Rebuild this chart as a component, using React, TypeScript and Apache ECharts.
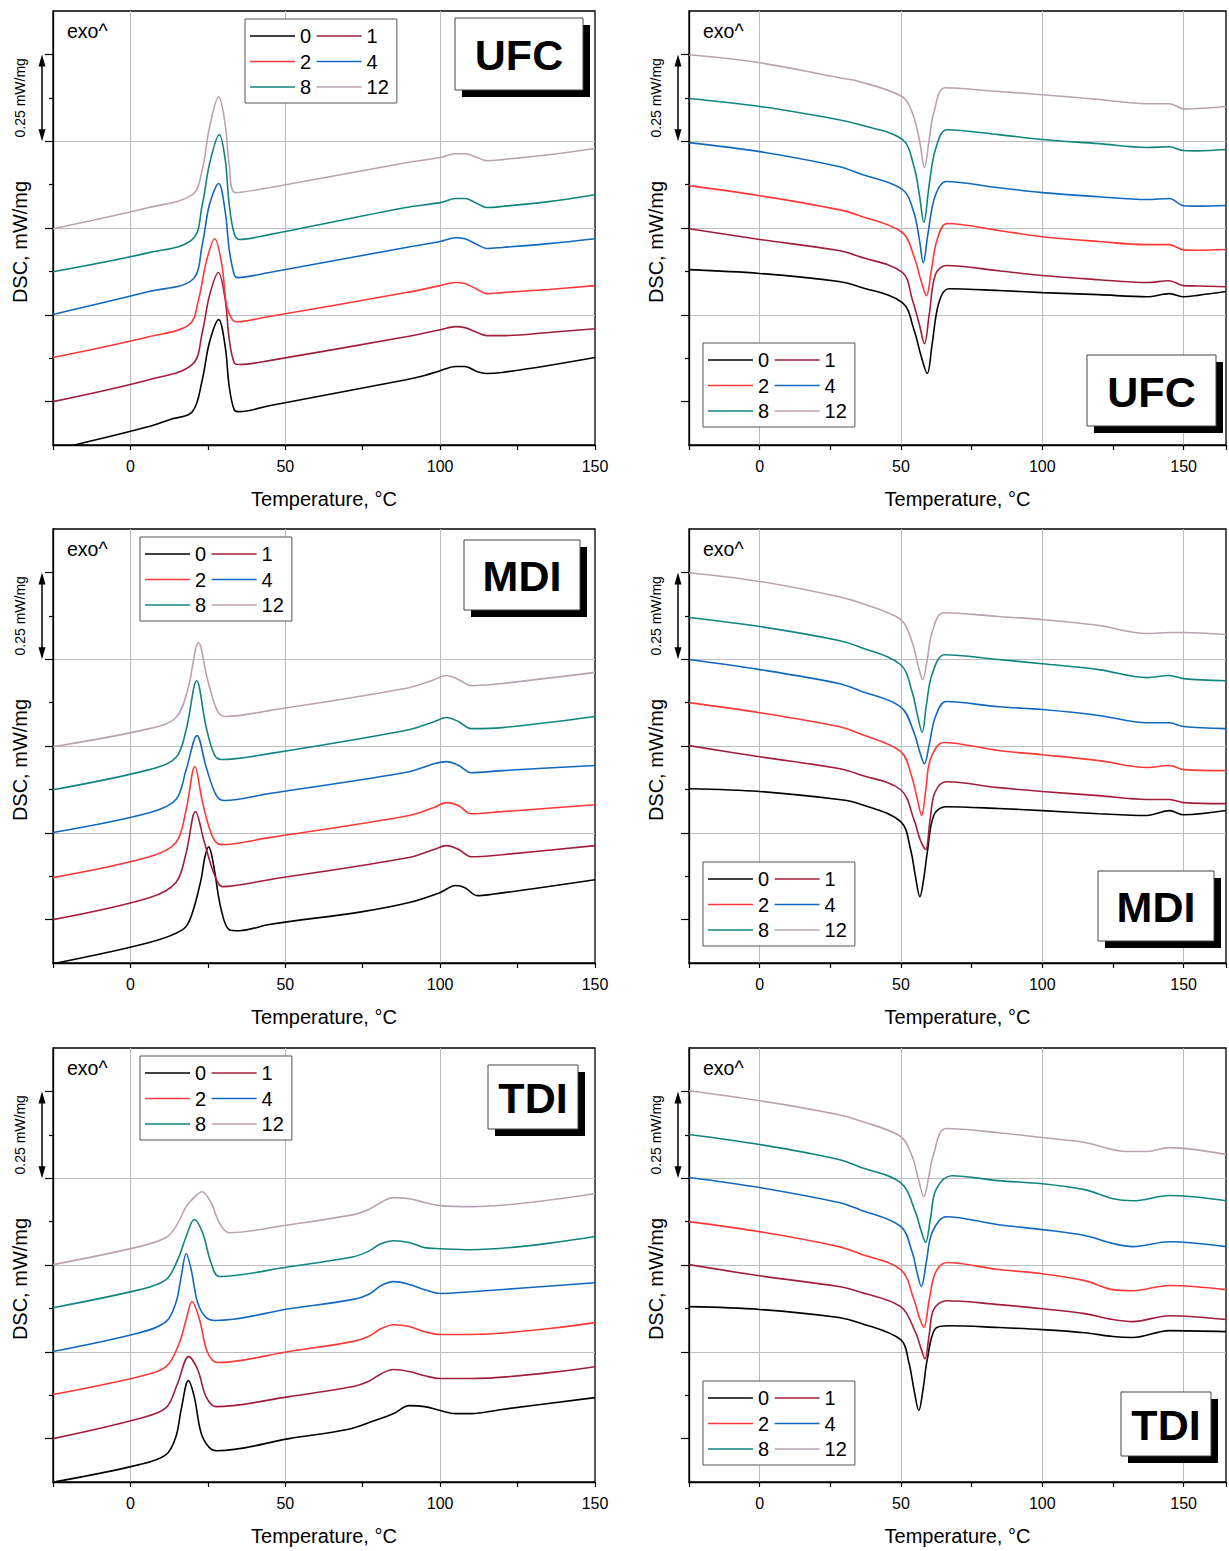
import React, { useEffect, useRef } from 'react';
import * as echarts from 'echarts';

const FONT = "'Liberation Sans', Arial, Helvetica, sans-serif";
const SAMPLES = ['0', '1', '2', '4', '8', '12'];
const COLORS = ['#000000', '#a01e3c', '#ff3838', '#1168bd', '#12847e', '#bba2b2'];
const X_LABELS_SHOWN = [0, 50, 100, 150];
const Y_MAJOR_TICKS = [0, 1, 2, 3, 4];

// [Temperature °C, DSC mW/mg (relative, shifted curves)]
const UFC_L_0 = [[-19,-0.127],[6,-0.072],[12.6,-0.052],[20,-0.029],[23.2,0.063],[25.5,0.170],[28.5,0.236],[30.6,0.158],[31.9,0.043],[33.5,-0.023],[35.2,-0.029],[44.8,-0.012],[89,0.063],[95,0.075],[100,0.089],[105,0.101],[108,0.101],[112,0.086],[115,0.081],[120,0.084],[135,0.104],[150,0.127]];
const UFC_L_1 = [[-25,0],[6,0.063],[20,0.107],[23.2,0.199],[25.5,0.305],[28.4,0.372],[30.6,0.294],[31.9,0.179],[33.5,0.112],[35.2,0.107],[44.8,0.118],[89,0.187],[100,0.207],[105,0.216],[108,0.213],[112,0.199],[115,0.190],[120,0.190],[135,0.199],[150,0.210]];
const UFC_L_2 = [[-25,0.127],[6,0.187],[19,0.222],[22,0.294],[24.5,0.403],[27.2,0.469],[29.5,0.395],[31,0.279],[32.5,0.242],[34.2,0.230],[44.8,0.245],[89,0.314],[100,0.334],[105,0.343],[108,0.340],[112,0.323],[115,0.311],[120,0.314],[135,0.323],[150,0.334]];
const UFC_L_4 = [[-25,0.251],[6,0.317],[20,0.351],[23.2,0.452],[25.5,0.567],[28.5,0.628],[30.6,0.547],[31.9,0.438],[33.5,0.366],[34.5,0.357],[44.8,0.372],[89,0.444],[100,0.461],[105,0.472],[108,0.469],[112,0.452],[115,0.441],[120,0.444],[135,0.455],[150,0.469]];
const UFC_L_8 = [[-25,0.374],[6,0.429],[20,0.467],[23.2,0.567],[25.5,0.683],[28.7,0.769],[30.6,0.697],[31.9,0.567],[33.5,0.484],[35.2,0.467],[44.8,0.481],[89,0.559],[100,0.573],[105,0.585],[108,0.585],[112,0.570],[115,0.559],[120,0.562],[135,0.576],[150,0.596]];
const UFC_L_12 = [[-25,0.498],[6,0.559],[20,0.596],[23.2,0.668],[25.5,0.789],[28.5,0.878],[30.6,0.798],[31.9,0.683],[33.9,0.602],[44.8,0.616],[89,0.688],[100,0.703],[105,0.714],[108,0.714],[112,0.703],[115,0.694],[120,0.697],[135,0.711],[150,0.729]];

const UFC_R_0 = [[-25,0.380],[0,0.369],[28,0.346],[35.2,0.331],[50.5,0.285],[54.6,0.207],[57,0.135],[59.3,0.081],[61,0.164],[63.4,0.285],[66.9,0.325],[84.5,0.320],[100,0.314],[120,0.308],[137,0.302],[145,0.311],[150,0.302],[155,0.306],[165,0.317]];
const UFC_R_1 = [[-25,0.498],[0,0.467],[28,0.435],[35.2,0.418],[50.5,0.372],[54,0.294],[56.5,0.222],[58.3,0.167],[60,0.251],[62.2,0.366],[66,0.392],[84.5,0.377],[100,0.363],[120,0.351],[137,0.343],[145,0.348],[150,0.334],[155,0.333],[165,0.331]];
const UFC_R_2 = [[-25,0.622],[0,0.593],[28,0.553],[35.2,0.536],[50.5,0.487],[54.6,0.418],[57,0.351],[59,0.305],[60.8,0.380],[62.8,0.467],[66.3,0.513],[84.5,0.493],[100,0.475],[120,0.461],[137,0.452],[145,0.452],[150,0.437],[155,0.436],[165,0.438]];
const UFC_R_4 = [[-25,0.746],[0,0.720],[28,0.677],[35.2,0.657],[50.5,0.611],[54.6,0.544],[56.5,0.467],[57.9,0.400],[59.5,0.481],[62,0.590],[66,0.634],[84.5,0.616],[100,0.602],[120,0.590],[137,0.582],[145,0.585],[150,0.564],[155,0.563],[165,0.565]];
const UFC_R_8 = [[-25,0.873],[0,0.850],[28,0.812],[35.2,0.798],[50.5,0.755],[54.6,0.677],[56.5,0.596],[58.1,0.516],[60,0.625],[62.2,0.726],[66.3,0.783],[84.5,0.769],[100,0.755],[120,0.743],[137,0.732],[145,0.734],[150,0.723],[155,0.722],[165,0.726]];
const UFC_R_12 = [[-25,0.999],[0,0.976],[28,0.933],[35.2,0.922],[50.5,0.878],[54,0.832],[56.5,0.755],[58.3,0.674],[60,0.755],[61.6,0.832],[65.7,0.904],[84.5,0.893],[100,0.884],[120,0.870],[137,0.858],[145,0.858],[150,0.843],[155,0.844],[165,0.850]];

const MDI_L_0 = [[-25,-0.127],[6.1,-0.066],[16.9,-0.029],[19.6,0.009],[22.8,0.115],[24,0.179],[25.3,0.210],[26.2,0.187],[27.1,0.144],[29.3,0.029],[31.9,-0.029],[35.2,-0.032],[44.8,-0.014],[75,0.023],[90,0.049],[100,0.078],[105,0.098],[108,0.092],[112,0.069],[116,0.072],[130,0.089],[150,0.115]];
const MDI_L_1 = [[-25,0],[6.1,0.063],[14.7,0.107],[18,0.193],[21,0.311],[23.9,0.222],[27.1,0.130],[29.8,0.095],[44.8,0.115],[90,0.179],[98,0.202],[102,0.213],[106,0.202],[110,0.181],[120,0.187],[150,0.213]];
const MDI_L_2 = [[-25,0.121],[6.1,0.181],[14.7,0.222],[18,0.317],[20.8,0.441],[23.3,0.337],[26.5,0.239],[29.3,0.216],[44.8,0.236],[90,0.300],[98,0.323],[102,0.337],[106,0.328],[110,0.305],[120,0.311],[150,0.331]];
const MDI_L_4 = [[-25,0.251],[6.1,0.308],[14.7,0.346],[18,0.432],[21.5,0.530],[24.4,0.441],[27.6,0.360],[30.3,0.343],[44.8,0.363],[90,0.426],[98,0.449],[102,0.455],[106,0.444],[110,0.423],[120,0.429],[150,0.444]];
const MDI_L_8 = [[-25,0.374],[6.1,0.432],[14.7,0.467],[18,0.547],[21.4,0.688],[24.4,0.556],[27.1,0.475],[29.3,0.461],[44.8,0.478],[90,0.547],[98,0.570],[102,0.582],[106,0.570],[110,0.550],[120,0.553],[150,0.585]];
const MDI_L_12 = [[-25,0.498],[6.1,0.550],[14.7,0.582],[18.5,0.662],[22,0.798],[24.9,0.691],[28.2,0.599],[30.9,0.585],[44.8,0.602],[90,0.668],[98,0.691],[102,0.703],[106,0.691],[110,0.674],[120,0.680],[150,0.712]];

const MDI_R_0 = [[-25,0.377],[0,0.369],[28,0.346],[35.2,0.334],[49.9,0.282],[53.4,0.202],[55,0.130],[56.7,0.066],[58,0.115],[59.3,0.193],[61.6,0.300],[65.7,0.325],[84.5,0.320],[100,0.314],[120,0.305],[137,0.300],[145,0.314],[150,0.302],[165,0.314]];
const MDI_R_1 = [[-25,0.501],[0,0.469],[28,0.435],[35.2,0.418],[49.9,0.374],[54.6,0.288],[56.8,0.230],[58.7,0.202],[60.3,0.288],[62,0.366],[66,0.397],[84.5,0.380],[100,0.369],[120,0.357],[137,0.346],[145,0.346],[150,0.337],[165,0.334]];
const MDI_R_2 = [[-25,0.625],[0,0.596],[28,0.556],[35.2,0.536],[49.9,0.484],[53.8,0.412],[55.8,0.346],[57.3,0.300],[58.8,0.374],[60.4,0.461],[65.1,0.510],[84.5,0.487],[100,0.475],[120,0.458],[137,0.438],[145,0.444],[150,0.432],[165,0.429]];
const MDI_R_4 = [[-25,0.749],[0,0.720],[28,0.680],[35.2,0.660],[49.9,0.613],[54.6,0.539],[56.6,0.484],[58.3,0.449],[60,0.504],[62.2,0.585],[66,0.628],[84.5,0.613],[100,0.605],[120,0.588],[137,0.567],[145,0.567],[150,0.556],[165,0.550]];
const MDI_R_8 = [[-25,0.870],[0,0.844],[28,0.804],[35.2,0.786],[49.9,0.734],[54,0.654],[55.8,0.590],[57.5,0.539],[59,0.619],[61,0.706],[65.5,0.763],[84.5,0.749],[100,0.737],[120,0.720],[137,0.697],[145,0.703],[150,0.694],[165,0.688]];
const MDI_R_12 = [[-25,0.999],[0,0.974],[28,0.930],[35.2,0.913],[49.9,0.864],[54,0.798],[56,0.734],[57.7,0.691],[59.3,0.749],[61,0.827],[65.1,0.884],[84.5,0.873],[100,0.864],[120,0.847],[137,0.824],[145,0.827],[150,0.827],[165,0.821]];

const TDI_L_0 = [[-24,-0.124],[2.9,-0.075],[11.5,-0.046],[14.7,0.006],[16.4,0.084],[18.7,0.167],[20.6,0.121],[22.8,0.017],[25.5,-0.026],[28.2,-0.035],[51.3,0],[70,0.026],[78,0.049],[85,0.072],[90,0.095],[95,0.092],[100,0.081],[105,0.072],[110,0.072],[120,0.084],[150,0.118]];
const TDI_L_1 = [[-25,0],[2.9,0.058],[11.5,0.089],[15.3,0.161],[18.8,0.236],[21.7,0.199],[24.4,0.121],[27.6,0.092],[51.3,0.121],[72,0.150],[77,0.165],[81,0.187],[85,0.199],[90,0.193],[95,0.181],[100,0.173],[110,0.173],[150,0.207]];
const TDI_L_2 = [[-25,0.127],[2.9,0.179],[11.5,0.207],[15.8,0.276],[18,0.343],[19.9,0.395],[22.3,0.343],[24.9,0.248],[28.2,0.219],[51.3,0.251],[72,0.280],[77,0.295],[81,0.317],[85,0.328],[90,0.323],[95,0.308],[100,0.300],[110,0.300],[150,0.334]];
const TDI_L_4 = [[-25,0.251],[2.9,0.305],[11.5,0.337],[14.7,0.392],[16.4,0.467],[18,0.533],[19.6,0.487],[21.7,0.392],[24.4,0.349],[27.6,0.340],[51.3,0.374],[72,0.401],[77,0.416],[81,0.441],[85,0.452],[90,0.444],[95,0.429],[100,0.418],[110,0.423],[150,0.449]];
const TDI_L_8 = [[-25,0.377],[2.9,0.429],[11.5,0.458],[15.3,0.516],[18,0.582],[20.6,0.631],[23.3,0.593],[26,0.507],[28.7,0.467],[51.3,0.495],[72,0.524],[77,0.540],[81,0.562],[85,0.570],[90,0.565],[95,0.550],[100,0.547],[110,0.544],[150,0.582]];
const TDI_L_12 = [[-25,0.501],[2.9,0.553],[11.5,0.579],[14.7,0.611],[18,0.668],[20.5,0.694],[23.1,0.711],[26,0.680],[28.7,0.622],[31.9,0.593],[51.3,0.616],[72,0.645],[77,0.660],[81,0.681],[85,0.694],[90,0.691],[95,0.680],[100,0.671],[110,0.668],[150,0.706]];

const TDI_R_0 = [[-25,0.380],[0,0.372],[28,0.349],[35.2,0.334],[49.9,0.285],[52.8,0.219],[54.6,0.141],[56.3,0.081],[57.8,0.141],[59.3,0.228],[62.2,0.317],[66.9,0.325],[84.5,0.320],[100,0.314],[115,0.305],[125,0.294],[132,0.291],[145,0.311],[165,0.308]];
const TDI_R_1 = [[-25,0.501],[0,0.469],[28,0.438],[35.2,0.423],[49.9,0.380],[55.2,0.305],[57,0.262],[58.5,0.230],[60,0.300],[61.6,0.372],[66,0.397],[84.5,0.386],[100,0.374],[115,0.360],[125,0.343],[132,0.337],[145,0.354],[165,0.343]];
const TDI_R_2 = [[-25,0.625],[0,0.596],[28,0.553],[35.2,0.533],[49.9,0.487],[54.6,0.400],[56.5,0.349],[58.1,0.320],[60,0.400],[62.2,0.478],[66.3,0.507],[84.5,0.487],[100,0.475],[115,0.455],[125,0.429],[132,0.426],[145,0.441],[165,0.429]];
const TDI_R_4 = [[-25,0.752],[0,0.723],[28,0.680],[35.2,0.660],[49.9,0.611],[54,0.536],[55.7,0.478],[57.2,0.438],[59,0.510],[61,0.593],[66,0.639],[84.5,0.616],[100,0.602],[115,0.585],[125,0.562],[132,0.553],[145,0.567],[165,0.553]];
const TDI_R_8 = [[-25,0.876],[0,0.847],[28,0.804],[35.2,0.783],[49.9,0.737],[55.2,0.651],[57,0.602],[58.7,0.565],[60.5,0.637],[62.4,0.717],[68,0.757],[84.5,0.743],[100,0.734],[115,0.717],[125,0.691],[132,0.685],[145,0.700],[165,0.685]];
const TDI_R_12 = [[-25,1.002],[0,0.973],[28,0.933],[35.2,0.916],[49.9,0.870],[54,0.812],[56.2,0.746],[58.1,0.697],[59.8,0.752],[61.3,0.812],[66,0.893],[84.5,0.881],[100,0.867],[115,0.853],[130,0.827],[137,0.827],[145,0.838],[165,0.818]];

// scale bar: one major y division = 0.25 mW/mg
const SCALE_BAR = 0.25;

const COL_LEFT = [53, 689];
const COL_WIDTH = [542, 539];
const COL_XMAX = [150, 165];
const ROW_TOP = [11, 529, 1048];
const GRID_H = 434;

const PANELS = [
  { label: 'UFC', row: 0, col: 0, curves: [UFC_L_0, UFC_L_1, UFC_L_2, UFC_L_4, UFC_L_8, UFC_L_12], leg: [245, 19], box: [455, 18, 128, 72] },
  { label: 'UFC', row: 0, col: 1, curves: [UFC_R_0, UFC_R_1, UFC_R_2, UFC_R_4, UFC_R_8, UFC_R_12], leg: [703, 343], box: [1087, 355, 129, 71] },
  { label: 'MDI', row: 1, col: 0, curves: [MDI_L_0, MDI_L_1, MDI_L_2, MDI_L_4, MDI_L_8, MDI_L_12], leg: [140, 537], box: [464, 540, 116, 70] },
  { label: 'MDI', row: 1, col: 1, curves: [MDI_R_0, MDI_R_1, MDI_R_2, MDI_R_4, MDI_R_8, MDI_R_12], leg: [703, 862], box: [1098, 871, 116, 70] },
  { label: 'TDI', row: 2, col: 0, curves: [TDI_L_0, TDI_L_1, TDI_L_2, TDI_L_4, TDI_L_8, TDI_L_12], leg: [140, 1056], box: [488, 1065, 90, 64] },
  { label: 'TDI', row: 2, col: 1, curves: [TDI_R_0, TDI_R_1, TDI_R_2, TDI_R_4, TDI_R_8, TDI_R_12], leg: [703, 1381], box: [1121, 1392, 90, 64] },
];

function buildOption() {
  const grid: any[] = [];
  const xAxis: any[] = [];
  const yAxis: any[] = [];
  const series: any[] = [];
  const legend: any[] = [];
  const graphic: any[] = [];

  PANELS.forEach((p, i) => {
    const left = COL_LEFT[p.col];
    const top = ROW_TOP[p.row];
    const width = COL_WIDTH[p.col];
    const xMax = COL_XMAX[p.col];
    grid.push({ left, top, width, height: GRID_H, show: true, borderColor: '#000', borderWidth: 1.3, backgroundColor: 'transparent' });
    xAxis.push({
      type: 'value', gridIndex: i, min: -25, max: xMax, interval: 25, position: 'bottom',
      axisLine: { show: true, onZero: false, lineStyle: { color: '#000', width: 1.3 } },
      axisTick: { show: true, length: 5, lineStyle: { color: '#000', width: 1.2 } },
      axisLabel: { show: true, margin: 13, fontSize: 16, color: '#000', fontFamily: FONT,
        formatter: (v: number) => (X_LABELS_SHOWN.indexOf(v) >= 0 ? String(v) : '') },
      splitLine: { show: false },
      name: 'Temperature, °C', nameLocation: 'middle', nameGap: 44,
      nameTextStyle: { fontSize: 20, color: '#000', fontFamily: FONT },
    });
    xAxis.push({
      type: 'value', gridIndex: i, min: -25, max: xMax, splitNumber: 4, position: 'bottom',
      axisLine: { show: false }, axisTick: { show: false }, axisLabel: { show: false },
      splitLine: { show: true, showMinLine: false, showMaxLine: false, lineStyle: { color: '#bcbcbc', width: 1 } },
    });
    yAxis.push({
      type: 'value', gridIndex: i, min: -0.5, max: 4.5, splitNumber: 5,
      axisLine: { show: true, onZero: false, lineStyle: { color: '#000', width: 1.3 } },
      axisTick: { show: true, length: 8, customValues: Y_MAJOR_TICKS, lineStyle: { color: '#000', width: 1.2 } },
      minorTick: { show: true, splitNumber: 2, length: 4, lineStyle: { color: '#000', width: 1.2 } },
      axisLabel: { show: false },
      splitLine: { show: true, showMinLine: false, showMaxLine: false, lineStyle: { color: '#bcbcbc', width: 1 } },
    });
    p.curves.forEach((c, k) => {
      series.push({
        type: 'line', name: SAMPLES[k], xAxisIndex: 2 * i, yAxisIndex: i,
        data: c.map(([t, v]) => [t, v / SCALE_BAR]),
        symbol: 'none', showSymbol: false, smooth: 0.35, clip: true,
        color: COLORS[k], lineStyle: { color: COLORS[k], width: 1.6 },
        z: 3,
      });
    });
    legend.push({
      left: p.leg[0], top: p.leg[1], width: 152, orient: 'horizontal',
      icon: 'rect', itemWidth: 45, itemHeight: 1.7, itemGap: 5.5, padding: [7, 8, 6, 5],
      borderColor: '#555', borderWidth: 1, backgroundColor: '#fff', borderRadius: 0,
      selectedMode: false, data: SAMPLES,
      textStyle: { fontSize: 20, color: '#000', fontFamily: FONT },
    });

    // annotations
    const ax = left - 11;
    const yTop = top + GRID_H * (0.5 / 5);
    const yBot = top + GRID_H * (1.5 / 5);
    graphic.push(
      { type: 'text', x: left + 14, y: top + 20, z: 20, style: { text: 'exo^', fontSize: 19.5, fontFamily: FONT, fill: '#000', verticalAlign: 'middle', align: 'left' } },
      { type: 'text', x: left - 33, y: top + 231, rotation: Math.PI / 2, z: 20, style: { text: 'DSC, mW/mg', fontSize: 20, fontFamily: FONT, fill: '#000', align: 'center', verticalAlign: 'middle' } },
      { type: 'text', x: left - 33, y: (yTop + yBot) / 2, rotation: Math.PI / 2, z: 20, style: { text: '0.25 mW/mg', fontSize: 14, fontFamily: FONT, fill: '#000', align: 'center', verticalAlign: 'middle' } },
      { type: 'line', z: 20, shape: { x1: ax, y1: yTop + 8, x2: ax, y2: yBot - 8 }, style: { stroke: '#000', lineWidth: 1.5 } },
      { type: 'polygon', z: 20, shape: { points: [[ax, yTop], [ax - 3.5, yTop + 12], [ax + 3.5, yTop + 12]] }, style: { fill: '#000' } },
      { type: 'polygon', z: 20, shape: { points: [[ax, yBot], [ax - 3.5, yBot - 12], [ax + 3.5, yBot - 12]] }, style: { fill: '#000' } },
    );
    const [bx, by, bw, bh] = p.box;
    graphic.push(
      { type: 'rect', z: 20, shape: { x: bx + 7, y: by + 7, width: bw, height: bh }, style: { fill: '#000' } },
      { type: 'rect', z: 21, shape: { x: bx, y: by, width: bw, height: bh }, style: { fill: '#fff', stroke: '#444', lineWidth: 1 } },
      { type: 'text', z: 22, x: bx + bw / 2, y: by + bh / 2 + 1, style: { text: p.label, fontSize: 43, fontWeight: 'bold', fontFamily: FONT, fill: '#000', align: 'center', verticalAlign: 'middle' } },
    );
  });

  return {
    animation: false,
    backgroundColor: '#fff',
    grid, xAxis, yAxis, series, legend, graphic,
  };
}

export default function App() {
  const ref = useRef<HTMLDivElement>(null);
  useEffect(() => {
    if (!ref.current) return;
    const chart = echarts.init(ref.current, undefined, { renderer: 'svg' });
    chart.setOption(buildOption() as any);
    return () => chart.dispose();
  }, []);
  return <div ref={ref} style={{ position: 'absolute', left: 0, top: 0, width: 1229, height: 1551 }} />;
}
